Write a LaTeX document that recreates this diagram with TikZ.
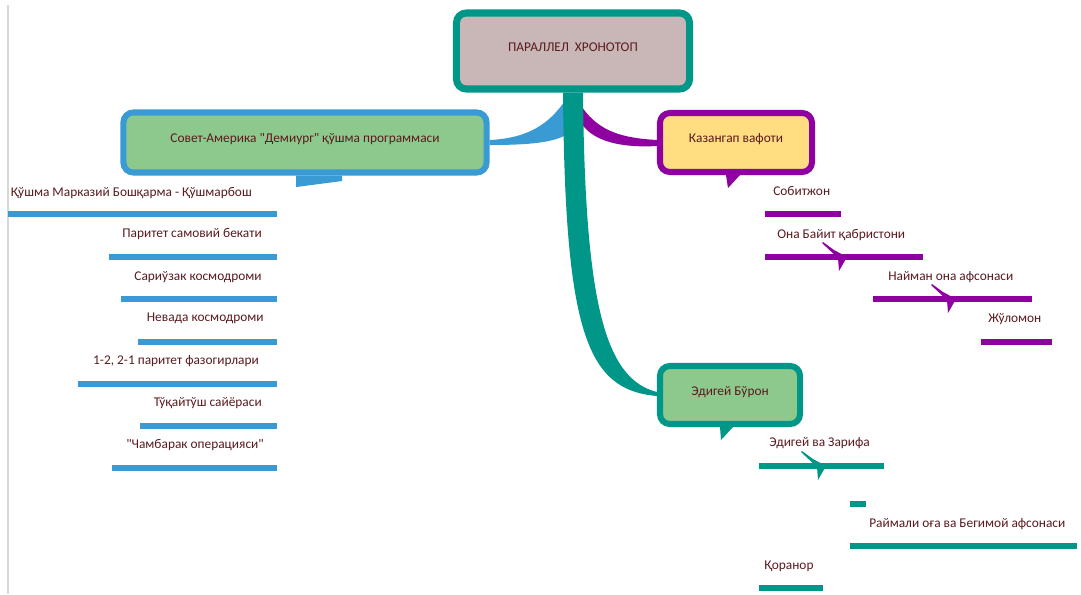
\documentclass[tikz,border=0pt]{standalone}
\usepackage{fontspec}
\setmainfont{Carlito}
\usetikzlibrary{positioning,calc}
\definecolor{Teal}{HTML}{009688}
\definecolor{Sky}{HTML}{3A9AD4}
\definecolor{Plum}{HTML}{8E00A0}
\definecolor{Rose}{HTML}{C9B7B7}
\definecolor{Leaf}{HTML}{8DC98D}
\definecolor{Butter}{HTML}{FFDD80}
\definecolor{Maroon}{HTML}{5A1A1E}
\definecolor{Rule}{HTML}{D9D9D9}
\newcommand\mapfont{\fontsize{9.5}{11}\selectfont}

\tikzset{
  topic/.style={draw,rounded corners=7pt,line width=4.3pt,inner sep=0pt,
    text=Maroon,font=\mapfont,text height=6pt,text depth=6pt},
  leaf/.style={inner sep=0pt,text=Maroon,font=\mapfont,text height=7pt,text depth=2pt},
  bar/.style={line width=4.3pt},
  barbhook/.pic={\fill (-15,-15) -- (-4,-7) -- (9,0) -- (1,14) -- (0,1) -- (-16,-14) -- cycle;}
}

\begin{document}
\begin{tikzpicture}[x=0.025cm,y=-0.025cm]
    \useasboundingbox[fill=white] (0,0) rectangle (1081,594);
    \draw[Rule,line width=1pt] (8,5) -- (8,594);

    % main topics
    \node[topic,draw=Teal,fill=Rose,line width=5pt,minimum width=5.825cm,minimum height=1.9cm] (root) at (573,51) {ПАРАЛЛЕЛ\ \ ХРОНОТОП};
    \node[topic,draw=Sky,fill=Leaf,minimum width=9.075cm,minimum height=1.5cm] (demiurg) at (305,142.5) {Совет-Америка \textquotedbl Демиург\textquotedbl{} қўшма программаси};
    \node[topic,draw=Plum,fill=Butter,minimum width=3.8cm,minimum height=1.475cm] (kazangap) at (736,142.5) {Казангап вафоти};
    \node[topic,draw=Teal,fill=Leaf,minimum width=3.5cm,minimum height=1.45cm] (edigey) at (730,395) {Эдигей Бўрон};

    % callout tails
    \fill[Sky] ($(demiurg.south)+(-9,0)$) -- ($(demiurg.south)+(37,0)$) -- ($(demiurg.south)+(37,5.5)$) -- ($(demiurg.south)+(-9,11.5)$) -- cycle;
    \fill[Plum] ($(kazangap.south)+(-10,0)$) -- ($(kazangap.south)+(4,0)$) -- ($(kazangap.south)+(-8,13)$) -- cycle;
    \fill[Teal] ($(edigey.south)+(-10,0)$) -- ($(edigey.south)+(3,0)$) -- ($(edigey.south)+(-9,13)$) -- cycle;

    % connectors
    \fill[Sky] ($(root.south)+(-10,11)$) .. controls ($(root.south)+(-28,36)$) and ($(demiurg.east)+(32,-4)$) .. ($(demiurg.east)+(0,-2.5)$)
      -- ($(demiurg.east)+(0,2.5)$) .. controls ($(demiurg.east)+(32,2.5)$) and ($(root.south)+(-23,51)$) .. ($(root.south)+(-8,43)$) -- cycle;
    \fill[Plum] ($(root.south)+(10,16)$) .. controls ($(root.south)+(27,39)$) and ($(kazangap.west)+(-35,-4.5)$) .. ($(kazangap.west)+(0,-2.5)$)
      -- ($(kazangap.west)+(0,3.5)$) .. controls ($(kazangap.west)+(-35,5.5)$) and ($(root.south)+(22,49)$) .. ($(root.south)+(10,33)$) -- cycle;
    \fill[Teal] ($(root.south)+(-10,0)$) .. controls ($(root.south)+(-8,241)$) and ($(edigey.west)+(-70,-5)$) .. ($(edigey.west)+(0,1)$)
      -- ($(edigey.west)+(0,-3)$) .. controls ($(edigey.west)+(-52,-16)$) and ($(root.south)+(12,211)$) .. ($(root.south)+(10,0)$) -- cycle;

    % left branch
    \foreach \name/\xr/\ty/\xl/\ly/\label in {
      qushma/252/193/8/214/{Қўшма Марказий Бошқарма - Қўшмарбош},
      paritet/262/234/109/257/{Паритет самовий бекати},
      sariuzak/262/277/121/299/{Сариўзак космодроми},
      nevada/264/318/138/342/{Невада космодроми},
      fazogir/259/361/78/384/{1-2, 2-1 паритет фазогирлари},
      tuqay/262/403/140/426/{Тўқайтўш сайёраси},
      chambarak/264/445/112/468/{\textquotedbl Чамбарак операцияси\textquotedbl}}{
      \node[leaf,anchor=east] (\name) at (\xr,\ty) {\label};
      \draw[bar,Sky] (\xl,\ly) -- (277,\ly);
    }

    % right branches
    \foreach \name/\xt/\ty/\xl/\xr/\ly/\label/\col in {
      sobitjon/773/192/765/841/214/{Собитжон}/Plum,
      onabayit/777/235/765/923/257/{Она Байит қабристони}/Plum,
      nayman/888/277/873/1032/299/{Найман она афсонаси}/Plum,
      julomon/988/319/981/1052/342/{Жўломон}/Plum,
      zarifa/769/443/759/884/466/{Эдигей ва Зарифа}/Teal,
      raymali/869/524/850/1077/546/{Раймали оға ва Бегимой афсонаси}/Teal,
      qoranor/764/566/759/823/588/{Қоранор}/Teal}{
      \node[leaf,anchor=west] (\name) at (\xt,\ty) {\label};
      \draw[bar,\col] (\xl,\ly) -- (\xr,\ly);
    }
    \draw[bar,Teal] (850,504) -- (866,504);

    % hooks on the lines
    \pic[Plum] at (838,257) {barbhook};
    \pic[Plum] at (947,299) {barbhook};
    \pic[Teal] at (817,466) {barbhook};
\end{tikzpicture}
\end{document}
